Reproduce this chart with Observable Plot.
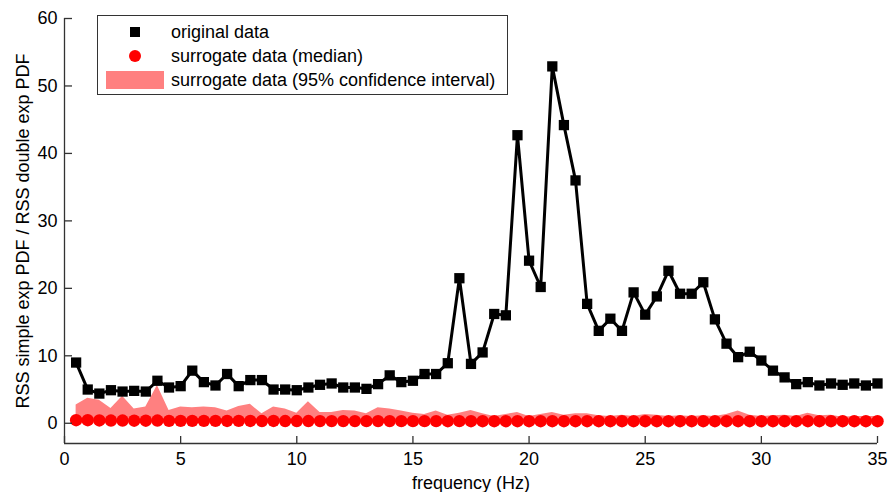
<!DOCTYPE html>
<html>
<head>
<meta charset="utf-8">
<script src="https://cdn.jsdelivr.net/npm/d3@7"></script>
<script src="https://cdn.jsdelivr.net/npm/@observablehq/plot@0.6"></script>
<style>
  html, body { margin: 0; padding: 0; background: #fff; }
  #wrap { position: relative; width: 888px; height: 492px; font-family: "Liberation Sans", Arial, sans-serif; }
  #legend { position: absolute; left: 97px; top: 15px; width: 411px; height: 80px; border: 1px solid #333; background: #fff; box-sizing: border-box; font-size: 18px; color: #000; }
  #legend .row { position: absolute; left: 0; height: 24px; display: flex; align-items: center; }
  #legend .sw { width: 73px; display: flex; justify-content: center; align-items: center; }
  #legend .txt { margin-left: 0px; white-space: nowrap; }
</style>
</head>
<body>
<div id="wrap">
  <div id="chart"></div>
  <div id="legend"></div>
</div>
<script>
const freq = [0.5,1,1.5,2,2.5,3,3.5,4,4.5,5,5.5,6,6.5,7,7.5,8,8.5,9,9.5,10,
  10.5,11,11.5,12,12.5,13,13.5,14,14.5,15,15.5,16,16.5,17,17.5,18,18.5,19,19.5,20,
  20.5,21,21.5,22,22.5,23,23.5,24,24.5,25,25.5,26,26.5,27,27.5,28,28.5,29,29.5,30,
  30.5,31,31.5,32,32.5,33,33.5,34,34.5,35];
const original = [9.0,5.0,4.4,4.9,4.7,4.8,4.7,6.3,5.3,5.5,7.8,6.1,5.6,7.3,5.5,6.4,6.4,5.0,5.0,4.9,
  5.3,5.7,5.9,5.3,5.3,5.1,5.8,7.1,6.1,6.3,7.3,7.3,8.9,21.5,8.8,10.5,16.2,16.0,42.7,24.1,
  20.2,52.9,44.2,36.0,17.7,13.7,15.5,13.7,19.4,16.1,18.8,22.6,19.2,19.2,20.9,15.4,11.8,9.8,10.6,9.3,
  7.8,6.8,5.8,6.1,5.6,5.9,5.7,5.9,5.6,5.9];
const median = [0.45,0.45,0.42,0.4,0.4,0.38,0.38,0.4,0.36,0.36,0.35,0.35,0.35,0.34,0.35,0.34,0.33,0.34,0.33,0.33,
  0.33,0.32,0.32,0.32,0.32,0.31,0.32,0.32,0.31,0.31,0.31,0.31,0.3,0.31,0.3,0.3,0.3,0.3,0.3,0.3,
  0.3,0.3,0.3,0.3,0.3,0.3,0.3,0.3,0.3,0.3,0.3,0.3,0.3,0.3,0.3,0.3,0.3,0.3,0.3,0.3,
  0.3,0.3,0.3,0.3,0.3,0.3,0.3,0.3,0.3,0.3];
const ciLow = [0.1,0.1,0.1,0.1,0.1,0.1,0.1,0.1,0.1,0.1,0.1,0.1,0.1,0.1,0.1,0.1,0.1,0.1,0.1,0.1,
  0.1,0.1,0.1,0.1,0.1,0.1,0.1,0.1,0.1,0.1,0.1,0.1,0.1,0.1,0.1,0.1,0.1,0.1,0.1,0.1,
  0.1,0.1,0.1,0.1,0.1,0.1,0.1,0.1,0.1,0.1,0.1,0.1,0.1,0.1,0.1,0.1,0.1,0.1,0.1,0.1,
  0.1,0.1,0.1,0.1,0.1,0.1,0.1,0.1,0.1,0.1];
const ciHigh = [2.7,3.7,3.4,2.2,4.0,2.1,2.4,5.6,1.9,2.4,2.3,2.4,2.3,1.8,2.5,2.8,1.4,2.4,2.1,1.5,
  3.2,1.6,1.6,1.9,1.8,1.4,2.3,2.1,1.8,1.5,1.3,1.8,1.2,1.5,1.9,1.4,1.0,1.3,1.6,1.0,
  1.3,1.6,1.2,1.4,1.4,1.1,1.0,1.2,1.0,1.3,1.2,1.0,1.1,1.0,1.1,1.0,1.3,1.8,1.2,1.0,
  1.1,1.2,1.0,1.5,1.1,1.2,0.9,1.0,1.0,1.0];
const xTicks = [0,5,10,15,20,25,30,35];
const yTicks = [0,10,20,30,40,50,60];

const rows = freq.map((f, i) => ({f, orig: original[i], med: median[i], lo: ciLow[i], hi: ciHigh[i]}));

const axisColor = "#333";
const chart = Plot.plot({
  width: 888,
  height: 492,
  marginLeft: 64,
  marginRight: 11,
  marginTop: 18,
  marginBottom: 49,
  style: {fontFamily: "'Liberation Sans', Arial, sans-serif", fontSize: "18px", color: "#000", background: "#fff"},
  x: {domain: [0, 35]},
  y: {domain: [-3, 60]},
  marks: [
    Plot.areaY(rows, {x: "f", y1: "lo", y2: "hi", fill: "#ff8080", fillOpacity: 1}),
    Plot.dot(rows, {x: "f", y: "med", r: 6.2, fill: "#ff0000", stroke: "none"}),
    Plot.line(rows, {x: "f", y: "orig", stroke: "#000", strokeWidth: 3}),
    Plot.dot(rows, {x: "f", y: "orig", symbol: "square", r: 5.8, fill: "#000", stroke: "none"}),
    Plot.ruleX([0], {stroke: axisColor, strokeWidth: 1.3}),
    Plot.ruleY([-3], {stroke: axisColor, strokeWidth: 1.3}),
    Plot.axisX({ticks: xTicks, tickSize: -7, tickPadding: 16, stroke: axisColor, strokeWidth: 1.3, label: "frequency (Hz)", labelAnchor: "center", labelOffset: 45, labelArrow: "none", tickFormat: d3.format("d")}),
    Plot.axisY({ticks: yTicks, tickSize: -8, tickPadding: 15, stroke: axisColor, strokeWidth: 1.3, label: "RSS simple exp PDF / RSS double exp PDF", labelAnchor: "center", labelOffset: 48, labelArrow: "none", tickFormat: d3.format("d")})
  ]
});
document.getElementById("chart").appendChild(chart);

const legendItems = [
  {label: "original data", kind: "square"},
  {label: "surrogate data (median)", kind: "circle"},
  {label: "surrogate data (95% confidence interval)", kind: "band"}
];
const legend = document.getElementById("legend");
legendItems.forEach((it, i) => {
  const row = document.createElement("div");
  row.className = "row";
  row.style.top = (4 + i * 24) + "px";
  const sw = document.createElement("div");
  sw.className = "sw";
  if (it.kind === "square") sw.innerHTML = '<svg width="12" height="12"><rect x="1" y="1" width="10" height="10" fill="#000"/></svg>';
  else if (it.kind === "circle") sw.innerHTML = '<svg width="14" height="14"><circle cx="7" cy="7" r="6" fill="#ff0000"/></svg>';
  else sw.innerHTML = '<svg width="58" height="18"><rect x="0" y="0" width="58" height="18" fill="#ff8080"/></svg>';
  const tx = document.createElement("div");
  tx.className = "txt";
  tx.textContent = it.label;
  row.appendChild(sw);
  row.appendChild(tx);
  legend.appendChild(row);
});
</script>
</body>
</html>
